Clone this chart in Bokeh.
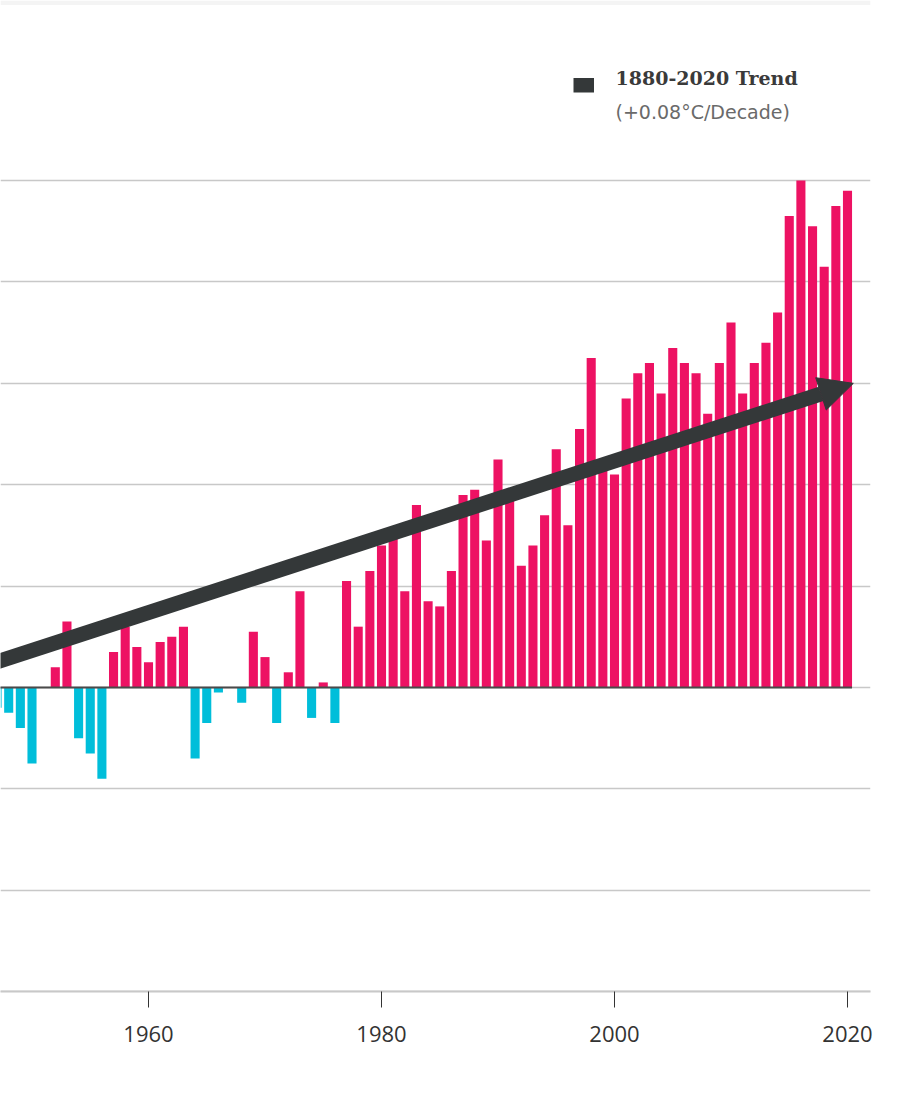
from bokeh.plotting import figure
from bokeh.models import (Range1d, FixedTicker, Arrow, NormalHead, Label,
                          BoxAnnotation, ColumnDataSource, Div)
from bokeh.layouts import column
from bokeh.embed import file_html
from bokeh.resources import INLINE

# ---- data (global temperature anomaly, °C) ----
years = list(range(1947, 2021))
anomalies = [
    -0.04, -0.05, -0.08, -0.15, 0.00, 0.04, 0.13, -0.10, -0.13, -0.18,   # 1947-1956
    0.07, 0.12, 0.08, 0.05, 0.09, 0.10, 0.12, -0.14, -0.07, -0.01,       # 1957-1966
    0.00, -0.03, 0.11, 0.06, -0.07, 0.03, 0.19, -0.06, 0.01, -0.07,      # 1967-1976
    0.21, 0.12, 0.23, 0.28, 0.30, 0.19, 0.36, 0.17, 0.16, 0.23,          # 1977-1986
    0.38, 0.39, 0.29, 0.45, 0.39, 0.24, 0.28, 0.34, 0.47, 0.32,          # 1987-1996
    0.51, 0.65, 0.43, 0.42, 0.57, 0.62, 0.64, 0.58, 0.67, 0.64,          # 1997-2006
    0.62, 0.54, 0.64, 0.72, 0.58, 0.64, 0.68, 0.74, 0.93, 1.00,          # 2007-2016
    0.91, 0.83, 0.95, 0.98,                                              # 2017-2020
]
trend_years = [1880, 2020.5]
trend_values = [-0.45, 0.60]
tick_years = [1960, 1980, 2000, 2020]
grid_values = [-0.6, -0.4, -0.2, 0.0, 0.2, 0.4, 0.6, 0.8, 1.0]
legend_title = "1880-2020 Trend"
legend_sub = "(+0.08°C/Decade)"

POS = "#ED1263"
NEG = "#00BEDA"
DARK = "#343839"

# ---- pixel helpers (page px -> data) ----
PX_PER_YEAR = 11.65
PX_PER_DEG = 506.9
def X(px):
    return 1960 + (px - 148) / PX_PER_YEAR
def Y(py):
    return (687 - py) / PX_PER_DEG

colors = [POS if v >= 0 else NEG for v in anomalies]
src = ColumnDataSource(dict(year=years, value=anomalies, color=colors))

p = figure(width=913, height=1097,
           x_range=Range1d(X(0), X(870)), y_range=Range1d(Y(991), Y(0)),
           output_backend="svg", toolbar_location=None, y_axis_location=None,
           min_border_left=0, min_border_right=43, min_border_top=0,
           min_border_bottom=106)
p.outline_line_color = None
p.background_fill_color = "white"
p.border_fill_color = "white"
p.xgrid.visible = False
p.ygrid.ticker = FixedTicker(ticks=grid_values)
p.ygrid.grid_line_color = "#c8c8c8"
p.ygrid.grid_line_width = 1.6

# thin page strip at the very top
p.add_layout(BoxAnnotation(top=Y(0), bottom=Y(4.5), fill_color="#f4f4f4",
                           fill_alpha=1.0, line_color=None))

p.vbar(x="year", top="value", bottom=0, width=0.78, fill_color="color",
       line_color=None, source=src)

p.line(x=[years[0] - 0.5, years[-1] + 0.39], y=[0, 0],
       line_color="#4a4a4a", line_width=2)

p.add_layout(Arrow(end=NormalHead(size=34, fill_color=DARK, line_color=DARK, line_width=1),
                   x_start=trend_years[0], y_start=trend_values[0],
                   x_end=trend_years[1], y_end=trend_values[1],
                   line_color=DARK, line_width=15))

# legend
p.add_layout(BoxAnnotation(left=X(573), right=X(593.5), top=Y(77.5), bottom=Y(92),
                           fill_color=DARK, fill_alpha=1.0, line_color=None))
p.add_layout(Label(x=X(615), y=Y(77), text=legend_title, text_font="DejaVu Serif",
                   text_font_style="bold", text_font_size="19px", text_color="#3a3a3a",
                   text_baseline="alphabetic", text_align="left"))
p.add_layout(Label(x=X(615), y=Y(111), text=legend_sub, text_font="DejaVu Sans",
                   text_font_size="19px", text_color="#6a6a6a",
                   text_baseline="alphabetic", text_align="left"))

ax = p.xaxis[0]
ax.ticker = FixedTicker(ticks=tick_years)
ax.axis_line_color = "#c8c8c8"
ax.axis_line_width = 2
ax.major_tick_line_color = "#333333"
ax.major_tick_line_width = 1
ax.major_tick_in = 0
ax.major_tick_out = 16
ax.minor_tick_line_color = None
ax.major_label_text_font = "Open Sans"
ax.major_label_text_font_size = "22px"
ax.major_label_text_color = "#333333"
ax.major_label_standoff = 18

band = Div(width=913, height=5, styles={"background-color": "#d4d4d6"})

layout = column(p, band, spacing=0)
open("out.html", "w").write(file_html(layout, INLINE))
